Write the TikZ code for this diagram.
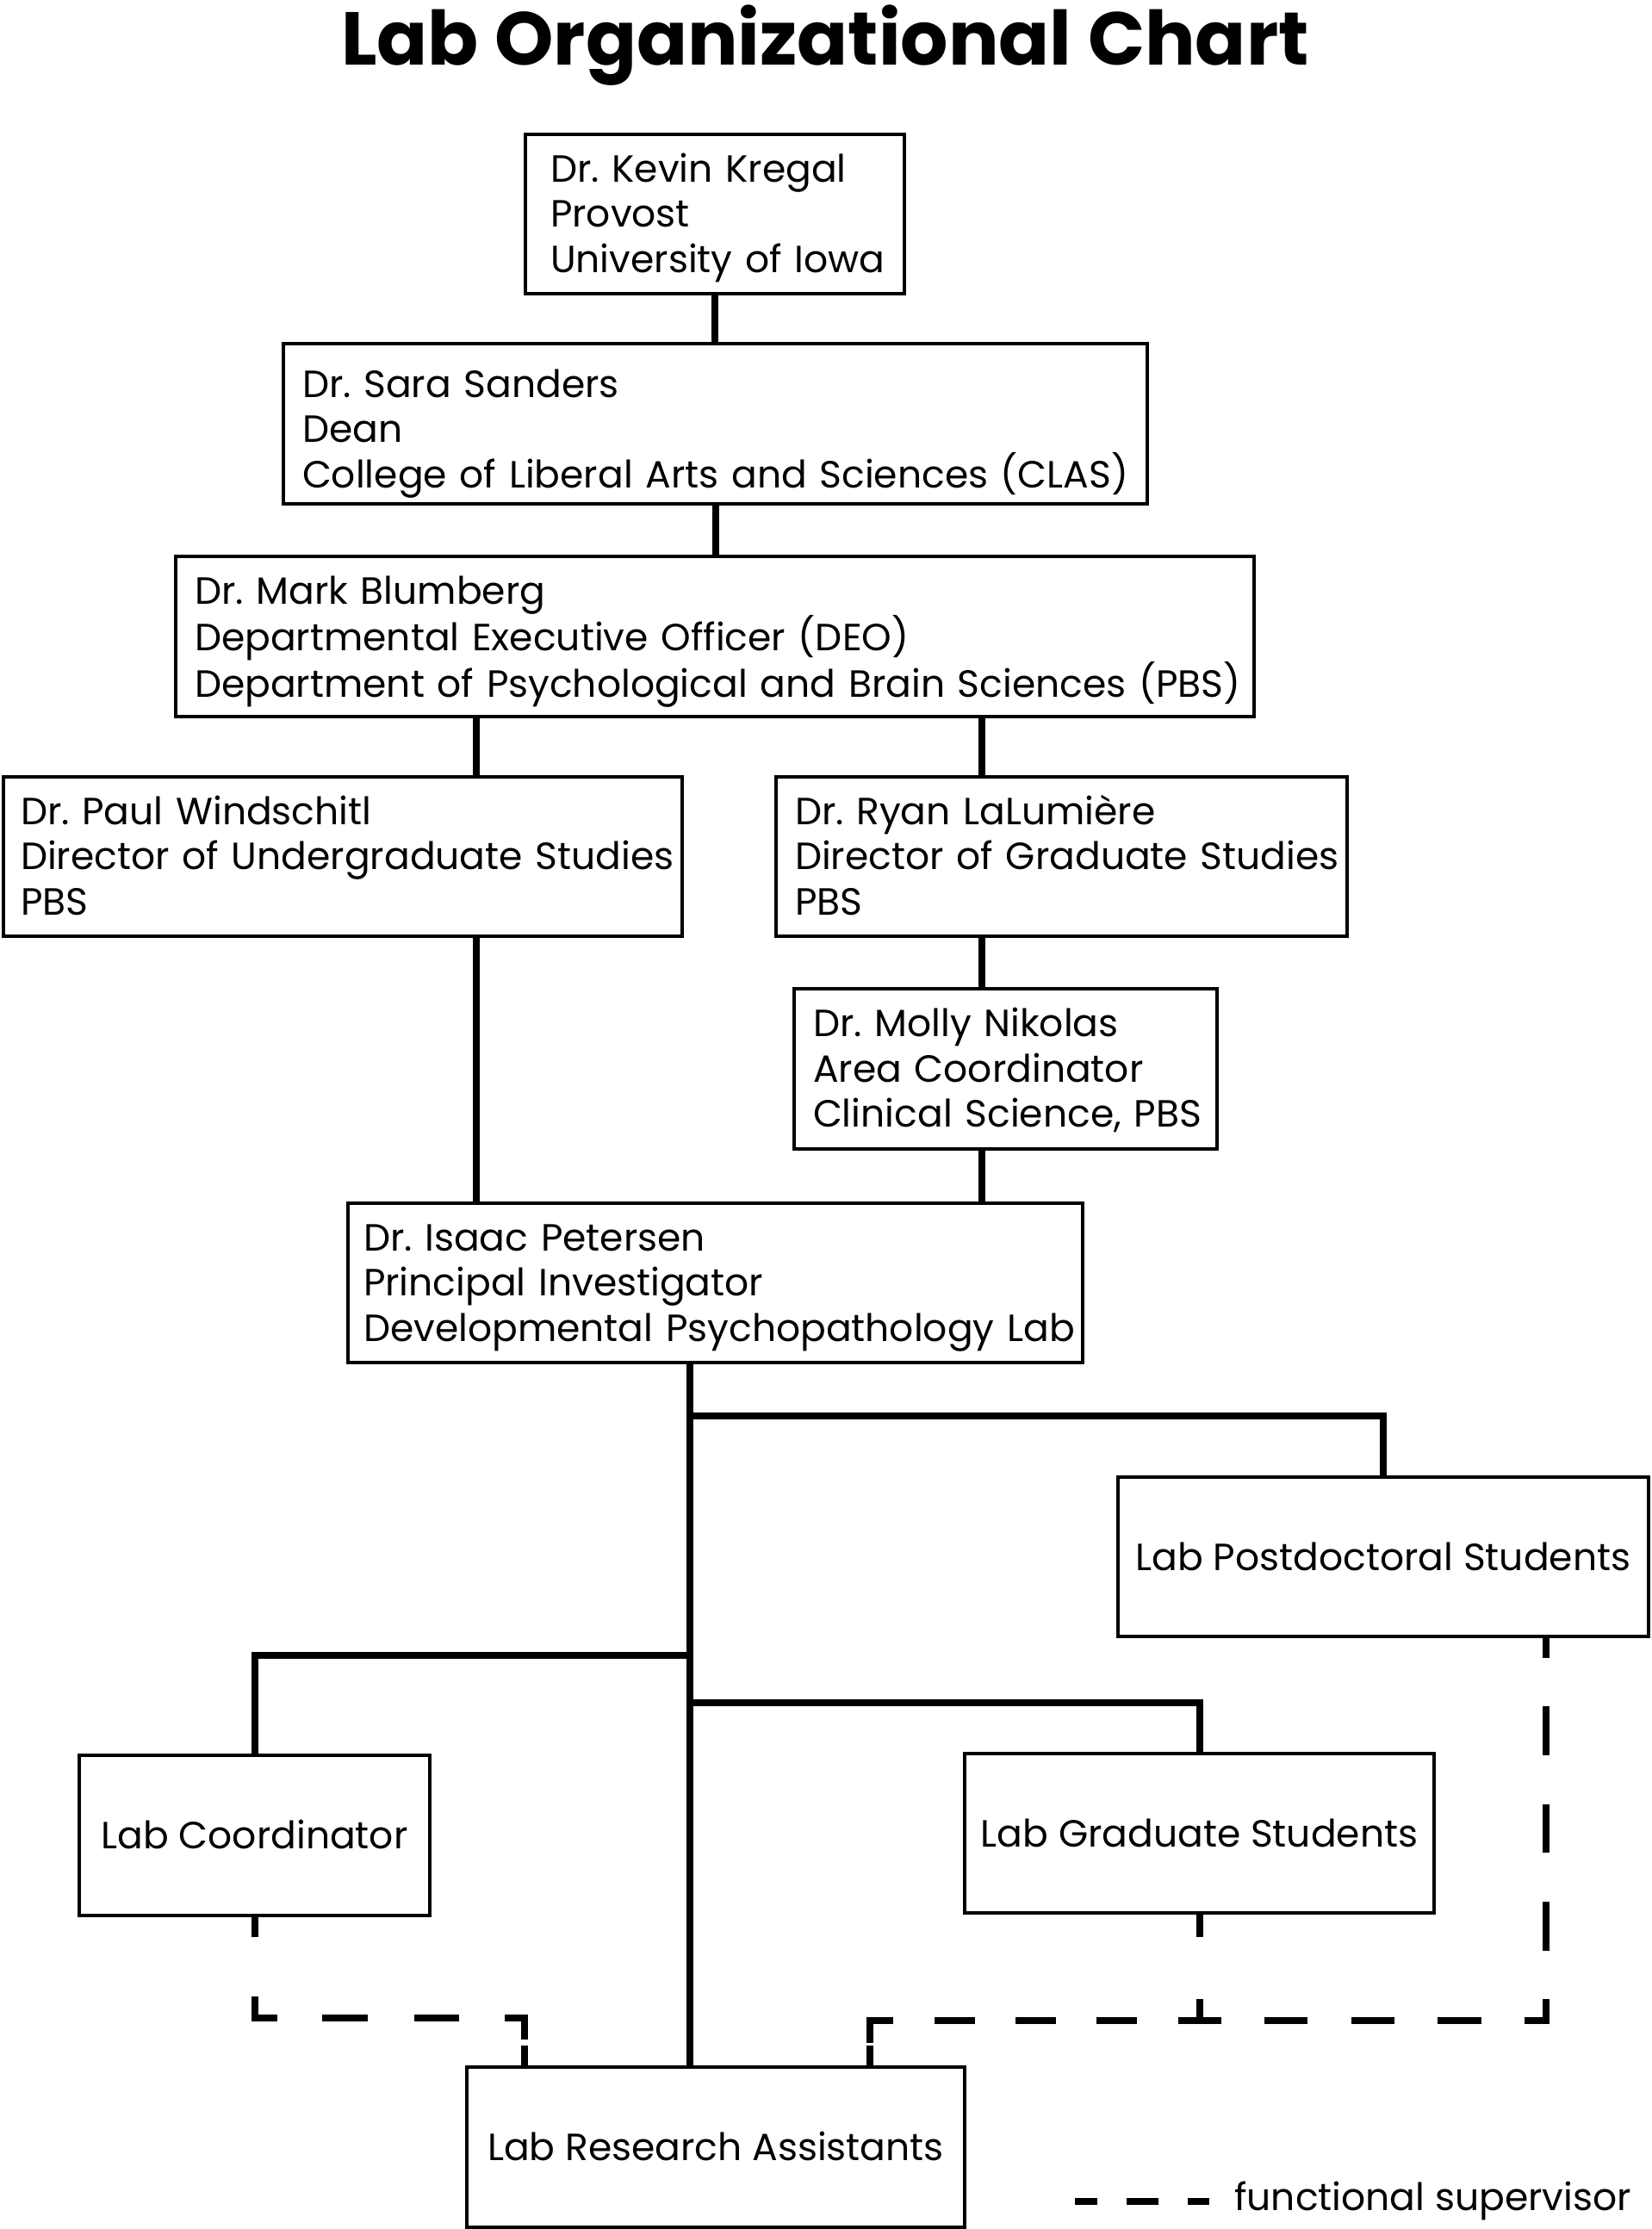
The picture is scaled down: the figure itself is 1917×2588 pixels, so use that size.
\documentclass[tikz,border=0pt]{standalone}
\usepackage{fontspec}
\setmainfont{Poppins}
\newcommand\bodyfont{\fontsize{44}{52.5}\selectfont}
\newcommand\titlefont{\fontsize{87}{100}\selectfont\bfseries}
\begin{document}
\frenchspacing
\begin{tikzpicture}[x=1pt,y=-1pt,
  box/.style={draw, line width=4pt, inner ysep=0pt, outer sep=0pt, minimum height=185pt, font=\bodyfont},
  mbox/.style={box, align=left, text height=41pt, text depth=116pt},
  sbox/.style={box, align=center, text height=31pt, text depth=0pt},
  link/.style={line width=8pt},
  fsup/.style={line width=8pt, line cap=butt, line join=miter}]
\useasboundingbox (0,0) rectangle (1917,2588);

\node[anchor=base, font=\titlefont, inner sep=0pt] (title) at (958,76) {Lab Organizational Chart};

\node[mbox, minimum width=440pt, text width=382pt, inner xsep=29pt] (kregal) at (830,248.5)
  {\mbox{Dr. Kevin Kregal}\\\mbox{Provost}\\\mbox{University of Iowa}};
\node[mbox, minimum width=1003pt, minimum height=186pt, text width=959pt, inner xsep=22pt, text height=54pt] (sanders) at (830.5,492)
  {\mbox{Dr. Sara Sanders}\\\mbox{Dean}\\\mbox{College of Liberal Arts and Sciences (CLAS)}};
\node[mbox, minimum width=1252pt, minimum height=186pt, text width=1208pt, inner xsep=22pt] (blumberg) at (830,739)
  {\mbox{Dr. Mark Blumberg}\\\mbox{Departmental Executive Officer (DEO)}\\\mbox{Department of Psychological and Brain Sciences (PBS)}};
\node[mbox, minimum width=788pt, text width=748pt, inner xsep=20pt] (windschitl) at (398,994.5)
  {\mbox{Dr. Paul Windschitl}\\\mbox{Director of Undergraduate Studies}\\\mbox{PBS}};
\node[mbox, minimum width=663pt, text width=619pt, inner xsep=22pt] (lalumiere) at (1232.5,994.5)
  {\mbox{Dr. Ryan LaLumière}\\\mbox{Director of Graduate Studies}\\\mbox{PBS}};
\node[mbox, minimum width=491pt, minimum height=186pt, text width=447pt, inner xsep=22pt] (nikolas) at (1167.5,1241)
  {\mbox{Dr. Molly Nikolas}\\\mbox{Area Coordinator}\\\mbox{Clinical Science, PBS}};
\node[mbox, minimum width=853pt, text width=817pt, inner xsep=18pt] (petersen) at (830.5,1489.5)
  {\mbox{Dr. Isaac Petersen}\\\mbox{Principal Investigator}\\\mbox{Developmental Psychopathology Lab}};

\node[sbox, minimum width=616pt] (postdoc) at (1606,1807.5) {Lab Postdoctoral Students};
\node[sbox, minimum width=407pt, minimum height=186pt] (coord) at (295.5,2131) {Lab Coordinator};
\node[sbox, minimum width=545pt] (grad) at (1392.5,2128.5) {Lab Graduate Students};
\node[sbox, minimum width=578pt, minimum height=186pt] (ra) at (831,2493) {Lab Research Assistants};

% solid reporting lines
\coordinate (xA) at (553,0);
\coordinate (xB) at (1140,0);
\coordinate (xT) at (801,0);
\coordinate (jP) at (801,1644);
\coordinate (jC) at (801,1922);
\coordinate (jG) at (801,1977);
\draw[link] (kregal.south) -- (kregal.south |- sanders.north);
\draw[link] (sanders.south) -- (sanders.south |- blumberg.north);
\draw[link] (blumberg.south -| xA) -- (windschitl.north -| xA);
\draw[link] (windschitl.south -| xA) -- (petersen.north -| xA);
\draw[link] (blumberg.south -| xB) -- (lalumiere.north -| xB);
\draw[link] (lalumiere.south -| xB) -- (nikolas.north -| xB);
\draw[link] (nikolas.south -| xB) -- (petersen.north -| xB);
\draw[link] (petersen.south -| xT) -- (ra.north -| xT);
\draw[link] (jP) -| (postdoc.north);
\draw[link] (jC) -| (coord.north);
\draw[link] (jG) -| (grad.north);

% functional supervisor lines
\coordinate (xPD) at (1795,0);
\coordinate (dL) at (609,2343);
\coordinate (dR) at (1010,2346);
\draw[fsup, dash pattern=on 25pt off 69pt on 51pt off 52pt on 53.5pt off 53.5pt on 52.6pt off 53pt on 48pt off 7pt on 25pt]
  (coord.south) |- (dL) -- (dL |- ra.north);
\draw[fsup, dash pattern=on 28pt off 72pt on 25pt]
  (grad.south) -- (grad.south |- dR);
\draw[fsup, dash pattern=on 25pt off 56pt on 57pt off 57pt on 56pt off 57pt on 57pt off 56pt on 50pt off 50.5pt on 50.5pt off 50pt on 50pt off 51pt on 50pt off 50pt on 50pt off 48pt on 47pt off 47pt on 47pt off 47pt on 47pt off 48pt on 53pt off 3pt on 25pt]
  (postdoc.south -| xPD) |- (dR) -- (dR |- ra.north);

% legend
\coordinate (lg1) at (1248,2556);
\coordinate (lg2) at (1404,2556);
\draw[fsup, dash pattern=on 26pt off 34pt on 37pt off 34pt on 25pt] (lg1) -- (lg2);
\node[anchor=base west, font=\bodyfont, inner sep=0pt] (legend) at (1433,2566) {functional supervisor};
\end{tikzpicture}
\end{document}
